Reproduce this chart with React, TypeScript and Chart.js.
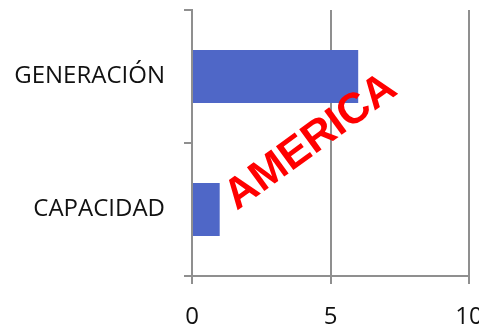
import React, { useEffect, useRef } from "react";
import { Chart, registerables } from "chart.js";

Chart.register(...registerables);

const categories = ["GENERACIÓN", "CAPACIDAD"];
const values = [6, 1];
const xTicks = [0, 5, 10];
const watermark = "AMERICA";

const AXIS_GRAY = "#8f8f8f";
const BAR_BLUE = "#4f67c7";
const FONT = "'Open Sans', 'DejaVu Sans', sans-serif";

// Large rotated red caption stamped across the plot
const watermarkPlugin = {
  id: "watermark",
  afterDraw(chart: any) {
    const { ctx } = chart;
    ctx.save();
    ctx.translate(318, 152);
    ctx.rotate((-36 * Math.PI) / 180);
    ctx.fillStyle = "#ff0000";
    ctx.font = "bold 43px 'Liberation Sans', Arial, sans-serif";
    ctx.textAlign = "center";
    ctx.textBaseline = "alphabetic";
    ctx.fillText(watermark, 0, 0);
    ctx.restore();
  },
};

export default function App() {
  const ref = useRef<HTMLCanvasElement | null>(null);

  useEffect(() => {
    if (!ref.current) return;
    const chart = new Chart(ref.current, {
      type: "bar",
      data: {
        labels: categories,
        datasets: [
          {
            data: values,
            backgroundColor: BAR_BLUE,
            borderWidth: 0,
            barPercentage: 0.8,
            categoryPercentage: 0.5,
          },
        ],
      },
      options: {
        indexAxis: "y",
        animation: false,
        responsive: false,
        layout: { padding: { top: 10, right: 10, left: 0, bottom: 0 } },
        plugins: {
          legend: { display: false },
          tooltip: { enabled: false },
        },
        scales: {
          x: {
            min: xTicks[0],
            max: xTicks[xTicks.length - 1],
            afterBuildTicks: (scale: any) => {
              scale.ticks = xTicks.map((v) => ({ value: v }));
            },
            afterFit: (scale: any) => {
              scale.height = 48;
              scale.paddingLeft = 0;
              scale.paddingRight = 0;
            },
            grid: {
              color: AXIS_GRAY,
              lineWidth: 2,
              tickLength: 8,
              drawTicks: true,
            },
            border: { display: true, color: AXIS_GRAY, width: 2 },
            ticks: {
              color: "#111",
              padding: 19,
              font: { family: FONT, size: 24 },
            },
          },
          y: {
            afterFit: (scale: any) => {
              scale.width = 192;
              scale.paddingTop = 0;
              scale.paddingBottom = 0;
            },
            grid: {
              drawOnChartArea: false,
              drawTicks: true,
              tickLength: 8,
              color: AXIS_GRAY,
              lineWidth: 2,
            },
            border: { display: true, color: AXIS_GRAY, width: 2 },
            ticks: {
              color: "#111",
              padding: 19,
              font: { family: FONT, size: 24 },
            },
          },
        },
      },
      plugins: [watermarkPlugin],
    });
    return () => chart.destroy();
  }, []);

  return (
    <div style={{ position: "fixed", left: 0, top: 0, width: 479, height: 324, background: "#fff" }}>
      <canvas ref={ref} width={479} height={324} style={{ width: 479, height: 324, display: "block" }} />
    </div>
  );
}
